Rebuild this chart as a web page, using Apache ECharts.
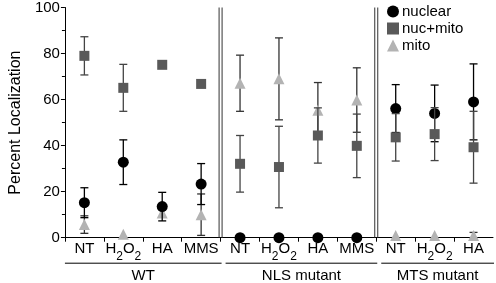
<!DOCTYPE html>
<html>
<head>
<meta charset="utf-8">
<script src="https://cdn.jsdelivr.net/npm/echarts@6/dist/echarts.min.js"></script>
<style>html,body{margin:0;padding:0;background:#fff}#chart{width:496px;height:283px}</style>
</head>
<body>
<div id="chart"></div>
<script>
// treatments along x, grouped by strain
const categories = ['NT', 'H2O2', 'HA', 'MMS', 'NT', 'H2O2', 'HA', 'MMS', 'NT', 'H2O2', 'HA'];
const groups = ['WT', 'NLS mutant', 'MTS mutant'];
const groupSizes = [4, 4, 3];
const yTicks = [0, 20, 40, 60, 80, 100];

const nuclear = [15.2, 32.8, 13.5, 23.3, 0, 0, 0, 0, 56.1, 54, 59];
const nuclearErr = [6.5, 9.7, 6.2, 8.9, 0, 0, 0, 0, 10.4, 12.3, 16.5];
const nucMito = [79, 65.1, 75.1, 66.8, 32.1, 30.7, 44.4, 39.9, 43.6, 45, 39.3];
const nucMitoErr = [8.3, 10.2, 0, 0, 12.3, 17.7, 12, 13.8, 10.3, 11.5, 15.6];
const mito = [5.7, 1.5, 10.7, 10, 67.1, 69, 55.4, 59.8, 1, 1, 1];
const mitoErr = [3.8, 0, 0, 9, 12.2, 17.8, 12, 14, 0, 0, 1.3];

const font = 'Liberation Sans, Arial, sans-serif';

const chart = echarts.init(document.getElementById('chart'));

function errorBars(name, values, errs, color, z) {
  return {
    type: 'custom',
    name: name + ' err',
    z: z,
    silent: true,
    data: values.map((v, i) => [i, v, errs[i]]),
    renderItem(params, api) {
      const err = api.value(2);
      if (!err) return;
      const i = api.value(0), v = api.value(1);
      const x = api.coord([i, v])[0];
      const top = api.coord([i, v + err])[1];
      const bot = api.coord([i, Math.max(0, v - err)])[1];
      const cap = 4;
      const st = { stroke: color, lineWidth: 1.3 };
      return {
        type: 'group',
        children: [
          { type: 'line', shape: { x1: x, y1: top, x2: x, y2: bot }, style: st },
          { type: 'line', shape: { x1: x - cap, y1: top, x2: x + cap, y2: top }, style: st },
          { type: 'line', shape: { x1: x - cap, y1: bot, x2: x + cap, y2: bot }, style: st }
        ]
      };
    }
  };
}

function points(name, values, symbol, size, color, z) {
  return {
    type: 'scatter',
    name: name,
    z: z,
    symbol: symbol,
    symbolSize: size,
    itemStyle: { color: color, opacity: 1 },
    data: values
  };
}

// boundaries between strain groups
const bounds = [];
let acc = 0;
groupSizes.forEach((n, gi) => {
  bounds.push([acc, acc + n - 1, gi]);
  acc += n;
});

const separators = {
  type: 'custom',
  name: 'sep',
  silent: true,
  z: 1,
  data: bounds.slice(0, -1).map(b => [b[1]]),
  renderItem(params, api) {
    const i = api.value(0);
    const bw = api.size([1, 0])[0];
    const x = api.coord([i, 0])[0] + bw / 2;
    const top = api.coord([i, 100])[1];
    const bot = api.coord([i, 0])[1];
    const st = { stroke: '#333', lineWidth: 1 };
    return {
      type: 'group',
      children: [
        { type: 'line', shape: { x1: x - 1.5, y1: top, x2: x - 1.5, y2: bot }, style: st },
        { type: 'line', shape: { x1: x + 1.5, y1: top, x2: x + 1.5, y2: bot }, style: st }
      ]
    };
  }
};

const groupLabels = {
  type: 'custom',
  name: 'groups',
  silent: true,
  clip: false,
  data: bounds,
  renderItem(params, api) {
    const s = api.value(0), e = api.value(1), gi = api.value(2);
    const bw = api.size([1, 0])[0];
    const x0 = api.coord([s, 0])[0] - bw / 2 + (gi > 0 ? 5 : 0);
    const x1 = api.coord([e, 0])[0] + bw / 2 + 1;
    const y0 = api.coord([s, 0])[1];
    return {
      type: 'group',
      children: [
        { type: 'line', shape: { x1: x0, y1: y0 + 25.5, x2: x1, y2: y0 + 25.5 },
          style: { stroke: '#000', lineWidth: 1 } },
        { type: 'text', style: { text: groups[gi], x: (x0 + x1) / 2, y: y0 + 38,
          align: 'center', verticalAlign: 'middle', fontSize: 15, fontFamily: font, fill: '#000' } }
      ]
    };
  }
};

chart.setOption({
  animation: false,
  grid: { left: 45, right: 3, top: 4, bottom: 45.3 },
  legend: {
    data: ['nuclear', 'nuc+mito', 'mito'],
    orient: 'vertical',
    left: 382,
    top: -1,
    itemWidth: 12,
    itemHeight: 12,
    itemGap: 2,
    textStyle: { fontSize: 15, fontFamily: font, color: '#000', padding: [0, 0, 0, -2] }
  },
  xAxis: {
    type: 'category',
    data: categories,
    axisLine: { lineStyle: { color: '#000', width: 1 } },
    axisTick: { show: true, length: 4, lineStyle: { color: '#000' } },
    axisLabel: {
      margin: 3,
      interval: 0,
      fontSize: 15,
      fontFamily: font,
      color: '#000',
      lineHeight: 16,
      formatter: v => v === 'H2O2' ? 'H{s|2}O{s|2}' : v,
      rich: { s: { fontSize: 12, fontFamily: font, color: '#000', padding: [16, 0, 0, 0] } }
    },
    splitLine: { show: false }
  },
  yAxis: {
    type: 'value',
    min: yTicks[0],
    max: yTicks[yTicks.length - 1],
    interval: yTicks[1] - yTicks[0],
    name: 'Percent Localization',
    nameLocation: 'middle',
    nameGap: 32,
    nameTextStyle: { fontSize: 16, fontFamily: font, color: '#000' },
    axisLine: { show: true, lineStyle: { color: '#000', width: 1 } },
    axisTick: { show: true, length: 4, lineStyle: { color: '#000' } },
    minorTick: { show: true, splitNumber: 2, length: 3, lineStyle: { color: '#000' } },
    axisLabel: { fontSize: 15, fontFamily: font, color: '#000', margin: 5 },
    splitLine: { show: false }
  },
  series: [
    separators,
    groupLabels,
    errorBars('mito', mito, mitoErr, '#333', 2),
    points('mito', mito, 'triangle', 11, '#b3b3b3', 3),
    errorBars('nuclear', nuclear, nuclearErr, '#000', 4),
    points('nuclear', nuclear, 'circle', 11, '#000', 5),
    errorBars('nuc+mito', nucMito, nucMitoErr, '#444', 6),
    points('nuc+mito', nucMito, 'rect', 10, '#595959', 7)
  ]
});
</script>
</body>
</html>
